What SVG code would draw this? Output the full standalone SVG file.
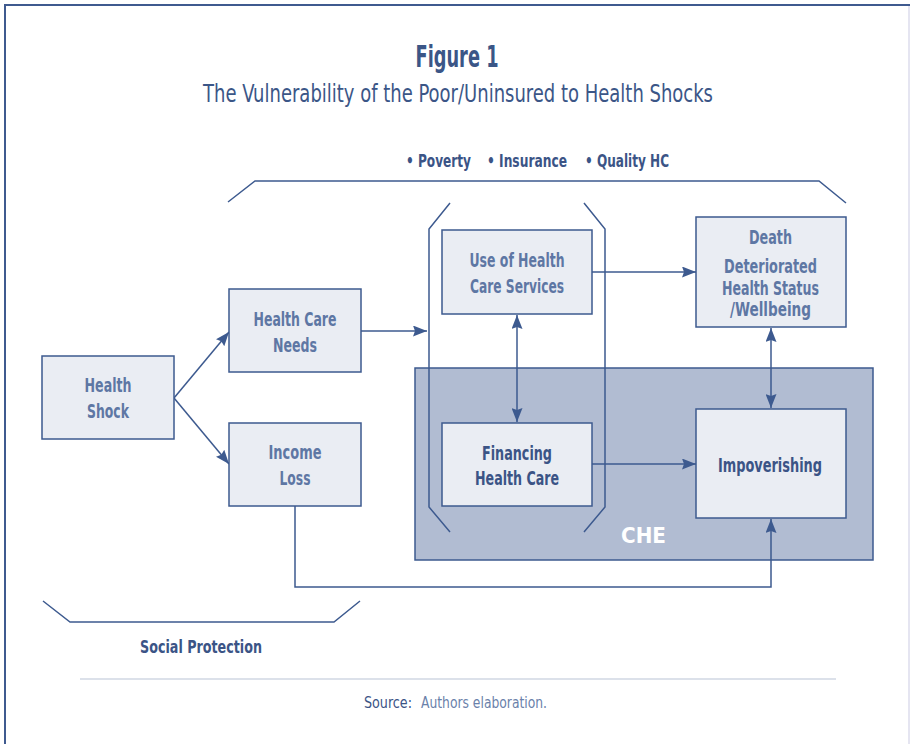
<svg xmlns="http://www.w3.org/2000/svg" width="910" height="744" viewBox="0 0 910 744">
<defs>
<style>
.t{font-family:"Liberation Sans Narrow","DejaVu Sans Condensed","Liberation Sans",sans-serif;text-anchor:middle;}
.box{fill:#eaedf3;stroke:#3d5a8f;stroke-width:1.5;}
.lt{fill:#5e77a4;font-weight:bold;font-size:19px;}
.dk{fill:#3b5486;font-weight:bold;font-size:19px;}
.ln{fill:none;stroke:#3d5a8f;stroke-width:1.5;}
</style>
<marker id="ah" viewBox="0 0 14 11" refX="14" refY="5.5" markerWidth="14" markerHeight="11" markerUnits="userSpaceOnUse" orient="auto-start-reverse">
<path d="M0,0 L14,5.5 L0,11 L2,5.5 Z" fill="#3d5a8f"/>
</marker>
</defs>
<rect x="0" y="0" width="910" height="744" fill="#ffffff"/>
<g id="frame">
<line x1="4" y1="5" x2="910" y2="5" stroke="#3f5a8f" stroke-width="2"/>
<line x1="5" y1="4" x2="5" y2="744" stroke="#3f5a8f" stroke-width="2"/>
<line x1="909" y1="6" x2="909" y2="744" stroke="#dcdcec" stroke-width="1.5"/>
</g>
<g id="title">
<text class="t" x="457" y="67" font-size="30" font-weight="bold" fill="#3b5687" textLength="83" lengthAdjust="spacingAndGlyphs">Figure 1</text>
<text class="t" x="458" y="102" font-size="25" fill="#3b5687" textLength="510" lengthAdjust="spacingAndGlyphs">The Vulnerability of the Poor/Uninsured to Health Shocks</text>
</g>
<g id="factors">
<text class="t" x="438.5" y="167" font-size="17" font-weight="bold" fill="#3b5486" textLength="65" lengthAdjust="spacingAndGlyphs">• Poverty</text>
<text class="t" x="527" y="167" font-size="17" font-weight="bold" fill="#3b5486" textLength="80" lengthAdjust="spacingAndGlyphs">• Insurance</text>
<text class="t" x="627" y="167" font-size="17" font-weight="bold" fill="#3b5486" textLength="84" lengthAdjust="spacingAndGlyphs">• Quality HC</text>
</g>
<g id="che">
<rect x="415" y="368" width="458" height="192" fill="#b1bcd2" stroke="#3d5a8f" stroke-width="1.5"/>
<text class="t" x="643.5" y="543" font-size="22" font-weight="bold" fill="#ffffff" textLength="45" lengthAdjust="spacingAndGlyphs">CHE</text>
</g>
<g id="brackets" class="ln">
<polyline points="228,202 255,181 819,181 846,203"/>
<polyline points="450,203 429,229 429,507 450,532"/>
<polyline points="584,203 605,229 605,507 584,532"/>
<polyline points="43,601 70,622 334,622 360,601"/>
</g>
<g id="connectors" class="ln">
<line x1="174" y1="398" x2="229" y2="332" marker-end="url(#ah)"/>
<line x1="174" y1="398" x2="229" y2="464" marker-end="url(#ah)"/>
<line x1="361" y1="331" x2="427" y2="331" marker-end="url(#ah)"/>
<line x1="592" y1="272" x2="696" y2="272" marker-end="url(#ah)"/>
<line x1="592" y1="464" x2="696" y2="464" marker-end="url(#ah)"/>
<line x1="517" y1="315" x2="517" y2="422" marker-start="url(#ah)" marker-end="url(#ah)"/>
<line x1="771" y1="328" x2="771" y2="408" marker-start="url(#ah)" marker-end="url(#ah)"/>
<polyline points="295,506 295,587 771,587 771,519" marker-end="url(#ah)"/>
</g>
<g id="health-shock">
<rect class="box" x="42" y="356" width="132" height="83"/>
<text class="t lt" x="108" y="392" textLength="47" lengthAdjust="spacingAndGlyphs">Health</text>
<text class="t lt" x="108" y="418" textLength="42" lengthAdjust="spacingAndGlyphs">Shock</text>
</g>
<g id="health-care-needs">
<rect class="box" x="229" y="289" width="132" height="83"/>
<text class="t lt" x="295" y="326" textLength="83" lengthAdjust="spacingAndGlyphs">Health Care</text>
<text class="t lt" x="295" y="352" textLength="44" lengthAdjust="spacingAndGlyphs">Needs</text>
</g>
<g id="income-loss">
<rect class="box" x="229" y="423" width="132" height="83"/>
<text class="t lt" x="295" y="459" textLength="53" lengthAdjust="spacingAndGlyphs">Income</text>
<text class="t lt" x="295" y="485" textLength="31" lengthAdjust="spacingAndGlyphs">Loss</text>
</g>
<g id="use-of-health-care">
<rect class="box" x="442" y="230" width="150" height="84"/>
<text class="t lt" x="517" y="267" textLength="95" lengthAdjust="spacingAndGlyphs">Use of Health</text>
<text class="t lt" x="517" y="293" textLength="94" lengthAdjust="spacingAndGlyphs">Care Services</text>
</g>
<g id="financing">
<rect class="box" x="442" y="423" width="150" height="83"/>
<text class="t dk" x="517" y="460" textLength="70" lengthAdjust="spacingAndGlyphs">Financing</text>
<text class="t dk" x="517" y="485" textLength="84" lengthAdjust="spacingAndGlyphs">Health Care</text>
</g>
<g id="death">
<rect class="box" x="696" y="217" width="150" height="110"/>
<text class="t lt" x="770.5" y="244" textLength="43" lengthAdjust="spacingAndGlyphs">Death</text>
<text class="t lt" x="770.5" y="273" textLength="93" lengthAdjust="spacingAndGlyphs">Deteriorated</text>
<text class="t lt" x="770.5" y="295" textLength="97" lengthAdjust="spacingAndGlyphs">Health Status</text>
<text class="t lt" x="770.5" y="316" textLength="81" lengthAdjust="spacingAndGlyphs">/Wellbeing</text>
</g>
<g id="impoverishing">
<rect class="box" x="696" y="409" width="150" height="109"/>
<text class="t dk" x="770" y="472" textLength="104" lengthAdjust="spacingAndGlyphs">Impoverishing</text>
</g>
<g id="social-protection">
<text class="t" x="201" y="653" font-size="18" font-weight="bold" fill="#3b5486" textLength="122" lengthAdjust="spacingAndGlyphs">Social Protection</text>
</g>
<g id="source">
<line x1="80" y1="679" x2="836" y2="679" stroke="#b9c3d6" stroke-width="1.2"/>
<text x="364" y="708" font-family="Liberation Sans Narrow,DejaVu Sans Condensed,Liberation Sans,sans-serif" font-size="16" fill="#3b5486" textLength="48" lengthAdjust="spacingAndGlyphs">Source:</text>
<text x="421" y="708" font-family="Liberation Sans Narrow,DejaVu Sans Condensed,Liberation Sans,sans-serif" font-size="16" fill="#6a81aa" textLength="126" lengthAdjust="spacingAndGlyphs">Authors elaboration.</text>
</g>
</svg>
